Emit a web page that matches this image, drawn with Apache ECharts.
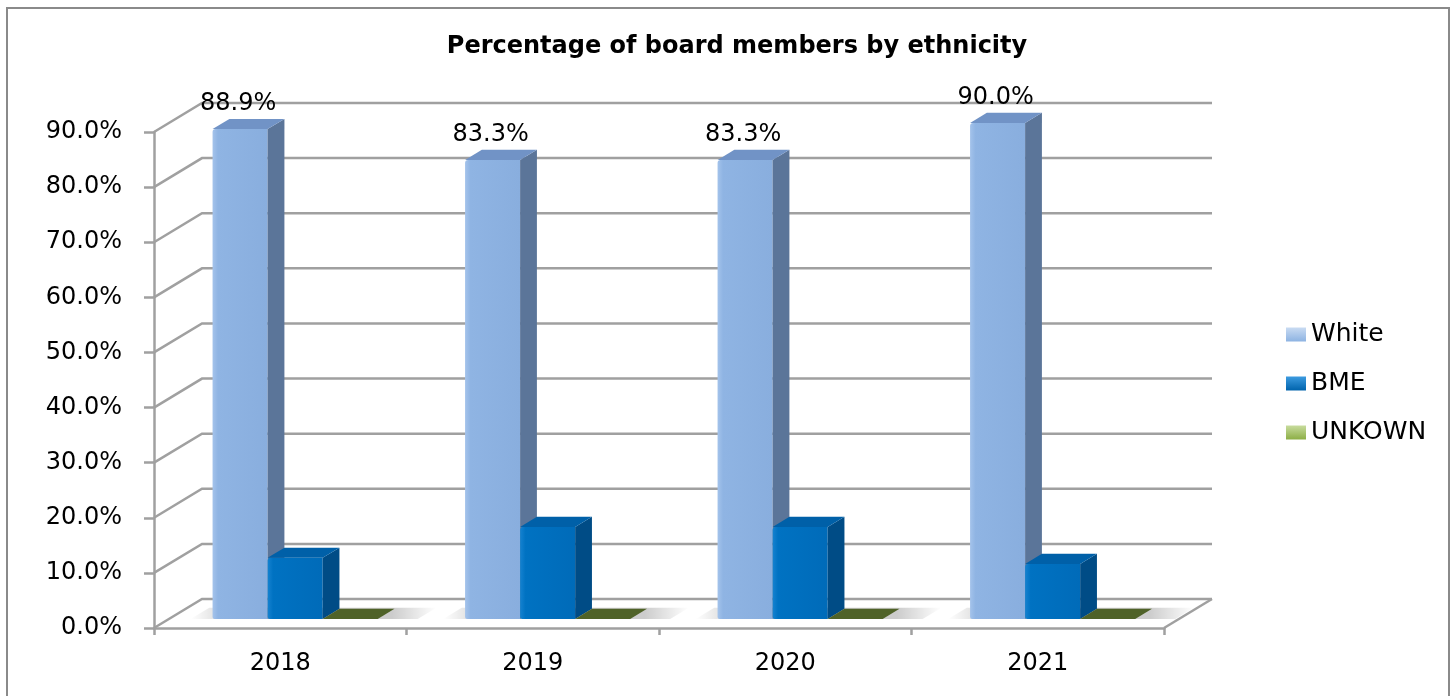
<!DOCTYPE html>
<html>
<head>
<meta charset="utf-8">
<script src="https://cdn.jsdelivr.net/npm/echarts@6/dist/echarts.min.js"></script>
<style>
  html, body { margin: 0; padding: 0; background: #fff; }
  #chart { width: 1452px; height: 696px; }
</style>
</head>
<body>
<div id="chart"></div>
<script>
// Board composition by ethnicity, share of members (%)
const categories = ['2018', '2019', '2020', '2021'];
const whiteShare = [88.9, 83.3, 83.3, 90.0];
const bmeShare = [11.1, 16.7, 16.7, 10.0];
const unknownShare = [0, 0, 0, 0];
const valueTicks = [0, 10, 20, 30, 40, 50, 60, 70, 80, 90];
const seriesNames = ['White', 'BME', 'UNKOWN'];

// Oblique projection of the 3-D box: full depth vector in pixels
const DX = 48, DY = -29;
// Depth range occupied by the columns, as a fraction of the box depth
const FRONT = 0.31, BACK = 0.66;
// Column width as a fraction of the category band
const BAR_FRAC = 0.218;
const FONT = 'DejaVu Sans';
const GRID_COLOR = '#A0A0A0';

function grad(x2, y2, stops) {
  return new echarts.graphic.LinearGradient(0, 0, x2, y2,
    stops.map(s => ({ offset: s[0], color: s[1] })));
}

const faces = [
  { front: grad(1, 0, [[0, '#A4C3EB'], [0.1, '#8FB4E3'], [1, '#89AEDE']]), side: '#5B7599', top: '#7193C6' },
  { front: grad(1, 0, [[0, '#1582D0'], [0.1, '#0072C2'], [1, '#006BB9']]), side: '#004C86', top: '#0060A8' },
  { front: '#4F6228', side: '#3D4C1F', top: '#4F6228' }
];

const legendColors = [
  grad(0, 1, [[0, '#C9DBF2'], [1, '#8DB3E2']]),
  grad(0, 1, [[0, '#3C9BE0'], [1, '#0063AC']]),
  grad(0, 1, [[0, '#C8DC9E'], [1, '#8CAE45']])
];

// Back wall, side wall and floor of the 3-D box, one row per value tick
function renderWalls(params, api) {
  const cs = params.coordSys;
  const v = api.value(1);
  const y = api.coord([0, v])[1];
  const xl = cs.x, xr = cs.x + cs.width;
  const style = { stroke: GRID_COLOR, lineWidth: 2.5, fill: null };
  const children = [{
    type: 'polyline',
    shape: { points: [[xl, y], [xl + DX, y + DY], [xr + DX, y + DY]] },
    style: style
  }];
  if (v === valueTicks[0]) {
    children.push({ type: 'line', shape: { x1: xr, y1: y, x2: xr + DX, y2: y + DY }, style: style });
  }
  return { type: 'group', children: children };
}

// A 3-D column: front face, right side face and top face
function columnRenderer(k, withLabel) {
  return function (params, api) {
    const i = api.value(0), v = api.value(1);
    const base = api.coord([i, 0]);
    const top = api.coord([i, v]);
    const bw = api.size([1, 0])[0] * BAR_FRAC;
    const fx = DX * FRONT, fy = DY * FRONT;
    const ddx = DX * (BACK - FRONT), ddy = DY * (BACK - FRONT);
    const x0 = base[0] + (k - 1.5) * bw + fx;
    const x1 = x0 + bw;
    const yb = base[1] + fy, yt = top[1] + fy;
    const f = faces[k];
    const children = [];
    if (k === 0) {
      // soft floor shadow under the cluster
      const L = base[0] - 1.5 * bw - 22, R = base[0] + 1.5 * bw + 40;
      const b0 = base[1];
      children.push({
        type: 'polygon',
        shape: { points: [
          [L + fx, b0 + fy], [R + fx, b0 + fy],
          [R + DX * (BACK + 0.04), b0 + DY * (BACK + 0.04)],
          [L + DX * (BACK + 0.04), b0 + DY * (BACK + 0.04)]
        ] },
        style: { fill: grad(1, 0, [[0, 'rgba(0,0,0,0)'], [0.18, 'rgba(0,0,0,0.2)'], [0.82, 'rgba(0,0,0,0.2)'], [1, 'rgba(0,0,0,0)']]) }
      });
    }
    if (yb - yt > 0.5) {
      children.push({
        type: 'rect',
        shape: { x: x0, y: yt, width: bw, height: yb - yt, r: [3, 0, 0, 2] },
        style: { fill: f.front }
      });
      children.push({
        type: 'polygon',
        shape: { points: [[x1, yt], [x1 + ddx, yt + ddy], [x1 + ddx, yb + ddy], [x1, yb]] },
        style: { fill: f.side }
      });
    }
    children.push({
      type: 'polygon',
      shape: { points: [[x0, yt], [x1, yt], [x1 + ddx, yt + ddy], [x0 + ddx, yt + ddy]] },
      style: { fill: f.top }
    });
    if (withLabel) {
      children.push({
        type: 'text',
        style: {
          text: v.toFixed(1) + '%',
          x: x0 + bw / 2 - 2, y: yt + ddy - 3,
          align: 'center', verticalAlign: 'bottom',
          fontFamily: FONT, fontSize: 24, fill: '#000'
        }
      });
    }
    return { type: 'group', children: children };
  };
}

function columnSeries(k, values, withLabel) {
  return {
    name: seriesNames[k],
    type: 'custom',
    z: 3,
    itemStyle: { color: legendColors[k] },
    renderItem: columnRenderer(k, withLabel),
    data: values.map((v, i) => [i, v])
  };
}

const chart = echarts.init(document.getElementById('chart'), null, { renderer: 'canvas' });
chart.setOption({
  animation: false,
  backgroundColor: '#fff',
  title: {
    text: 'Percentage of board members by ethnicity',
    left: 732, top: 30, textAlign: 'center',
    textStyle: { fontFamily: FONT, fontWeight: 'bold', fontSize: 24, color: '#000' }
  },
  legend: {
    orient: 'vertical',
    left: 1286, top: 322, padding: 0,
    itemWidth: 20, itemHeight: 14, itemGap: 24,
    icon: 'rect',
    textStyle: { fontFamily: FONT, fontSize: 25, color: '#000' },
    data: seriesNames.map((n, k) => ({ name: n, itemStyle: { color: legendColors[k] } }))
  },
  graphic: [{
    type: 'rect',
    shape: { x: 7, y: 8, width: 1442, height: 700 },
    style: { fill: null, stroke: '#8A8A8A', lineWidth: 2 },
    silent: true
  }],
  grid: { left: 154, right: 288, top: 132, bottom: 68 },
  xAxis: {
    type: 'category',
    data: categories,
    boundaryGap: true,
    axisLine: { show: true, lineStyle: { color: GRID_COLOR, width: 2.5 } },
    axisTick: { show: true, length: 7, lineStyle: { color: GRID_COLOR, width: 2.5 } },
    axisLabel: { fontFamily: FONT, fontSize: 24, color: '#000', margin: 24 },
    splitLine: { show: false }
  },
  yAxis: {
    type: 'value',
    min: 0, max: 90, interval: 10,
    axisLine: { show: true, lineStyle: { color: GRID_COLOR, width: 2.5 } },
    axisTick: { show: true, length: 10, lineStyle: { color: GRID_COLOR, width: 2.5 } },
    axisLabel: {
      fontFamily: FONT, fontSize: 24, color: '#000', margin: 32,
      padding: [6, 0, 0, 0],
      formatter: v => v.toFixed(1) + '%'
    },
    splitLine: { show: false }
  },
  series: [
    {
      name: 'walls',
      type: 'custom',
      z: 1,
      silent: true,
      renderItem: renderWalls,
      data: valueTicks.map(v => [0, v])
    },
    columnSeries(0, whiteShare, true),
    columnSeries(1, bmeShare, false),
    columnSeries(2, unknownShare, false)
  ]
});
</script>
</body>
</html>
